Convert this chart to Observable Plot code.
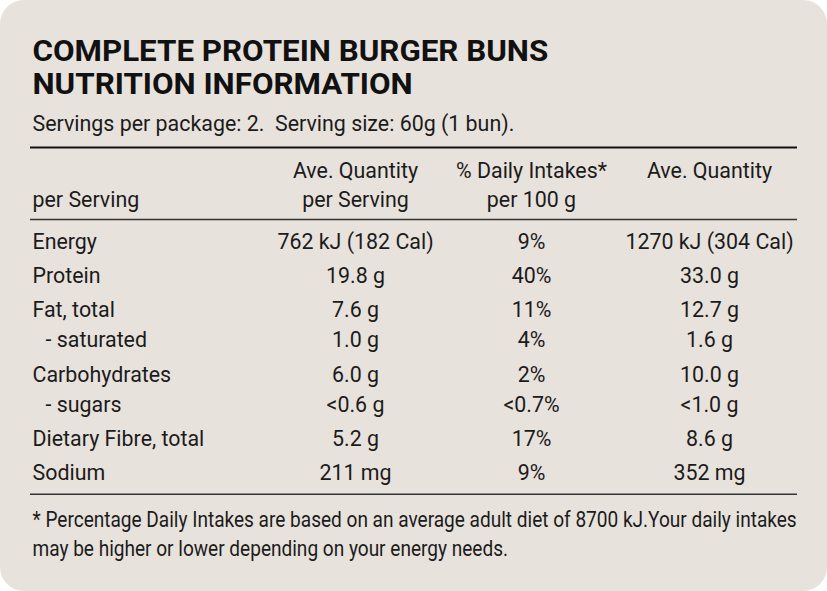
<!DOCTYPE html>
<html><head><meta charset="utf-8">
<script src="https://cdn.jsdelivr.net/npm/d3@7"></script>
<script src="https://cdn.jsdelivr.net/npm/@observablehq/plot@0.6"></script>
<style>
body{margin:0;background:#ffffff}
#chart svg{display:block}
</style></head><body><div id="chart"></div>
<script>
// ---- data ----
const titleLines = ["COMPLETE PROTEIN BURGER BUNS", "NUTRITION INFORMATION"];
const subtitle = "Servings per package: 2.\u00a0 Serving size: 60g (1 bun).";
const headerLine1 = ["", "Ave. Quantity", "% Daily Intakes*", "Ave. Quantity"];
const headerLine2 = ["per Serving", "per Serving", "per 100 g", ""];
const nutrients = ["Energy", "Protein", "Fat, total", "- saturated", "Carbohydrates", "- sugars", "Dietary Fibre, total", "Sodium"];
const isSubItem = [false, false, false, true, false, true, false, false];
const perServing = ["762 kJ (182 Cal)", "19.8 g", "7.6 g", "1.0 g", "6.0 g", "<0.6 g", "5.2 g", "211 mg"];
const dailyIntakePct = ["9%", "40%", "11%", "4%", "2%", "<0.7%", "17%", "9%"];
const per100g = ["1270 kJ (304 Cal)", "33.0 g", "12.7 g", "1.6 g", "10.0 g", "<1.0 g", "8.6 g", "352 mg"];
const footnoteLines = [
  "* Percentage Daily Intakes are based on an average adult diet of 8700 kJ.Your daily intakes",
  "may be higher or lower depending on your energy needs."
];

// ---- layout ----
const W = 827, H = 591;
const left = 32, indent = 13, ruleX1 = 30, ruleX2 = 797;
const colCenters = [355, 531, 709];
const titleBase = 60, titleStep = 33, subtitleBase = 130;
const header1Base = 177, header2Base = 206;
const firstRowBase = 248, mainGap = 34.2, subGap = 30.4;
const rowY = [];
nutrients.forEach((n, i) => rowY.push(i === 0 ? firstRowBase : rowY[i - 1] + (isSubItem[i] ? subGap : mainGap)));
const topRuleY = 147, headRuleY = 219, bottomRuleY = rowY[rowY.length - 1] + 14;
const footBase = 526, footStep = 29;
const ink = "#1b1b1b";

const labelCells = nutrients.map((n, i) => ({x: left + (isSubItem[i] ? indent : 0), y: rowY[i], text: n}));
const valueCells = nutrients.flatMap((n, i) => [
  {x: colCenters[0], y: rowY[i], text: perServing[i]},
  {x: colCenters[1], y: rowY[i], text: dailyIntakePct[i]},
  {x: colCenters[2], y: rowY[i], text: per100g[i]}
]);
const headerCells = [];
headerLine1.forEach((t, j) => { if (t && j > 0) headerCells.push({x: colCenters[j - 1], y: header1Base, text: t}); });
headerLine2.forEach((t, j) => { if (t && j > 0) headerCells.push({x: colCenters[j - 1], y: header2Base, text: t}); });

const common = {lineAnchor: "bottom", fill: ink, fontSize: 21.5};

const svg = Plot.plot({
  width: W, height: H,
  margin: 0,
  x: {domain: [0, W], range: [0, W], axis: null},
  y: {domain: [0, H], range: [0, H], axis: null},
  style: {background: "#e8e2dc", borderRadius: "24px", fontFamily: "Roboto, 'Liberation Sans', sans-serif", overflow: "hidden"},
  marks: [
    Plot.text(titleLines, {x: () => left, y: (d, i) => titleBase + i * titleStep, text: d => d, textAnchor: "start", lineAnchor: "bottom", fill: "#111", fontSize: 29, fontWeight: 700}),
    Plot.text([subtitle], {x: () => left, y: () => subtitleBase, text: d => d, textAnchor: "start", ...common}),
    Plot.ruleY([topRuleY], {x1: ruleX1, x2: ruleX2, stroke: "#111", strokeWidth: 2}),
    Plot.text([headerLine2[0]], {x: () => left, y: () => header2Base, text: d => d, textAnchor: "start", ...common}),
    Plot.text(headerCells, {x: "x", y: "y", text: "text", textAnchor: "middle", ...common}),
    Plot.ruleY([headRuleY], {x1: ruleX1, x2: ruleX2, stroke: "#333", strokeWidth: 1.6}),
    Plot.text(labelCells, {x: "x", y: "y", text: "text", textAnchor: "start", ...common}),
    Plot.text(valueCells, {x: "x", y: "y", text: "text", textAnchor: "middle", ...common}),
    Plot.ruleY([bottomRuleY], {x1: ruleX1, x2: ruleX2, stroke: "#333", strokeWidth: 1.6}),
    Plot.text(footnoteLines, {x: () => left, y: (d, i) => footBase + i * footStep, text: d => d, textAnchor: "start", ...common})
  ]
});
document.getElementById("chart").append(svg);

// condense glyphs horizontally (around each text's anchor) to match the narrow typeface of the reference
const texts = Array.from(svg.querySelectorAll("text"));
const natural = t => t.getComputedTextLength();
const sub = texts.find(t => t.textContent === subtitle);
const foot = texts.find(t => t.textContent === footnoteLines[0]);
const title = texts.find(t => t.textContent === titleLines[0]);
const bodyRatio = 482 / natural(sub);
const footRatio = 765 / natural(foot);
const titleRatio = 516 / natural(title);
texts.forEach(t => {
  const bold = t.closest("g[font-weight='700']");
  const isFoot = footnoteLines.includes(t.textContent);
  const r = bold ? titleRatio : isFoot ? footRatio : bodyRatio;
  const tr = t.getAttribute("transform");
  if (tr) {
    t.setAttribute("transform", `${tr} scale(${r.toFixed(4)},1)`);
  } else {
    const x = +t.getAttribute("x") || 0;
    t.setAttribute("transform", `translate(${x},0) scale(${r.toFixed(4)},1) translate(${-x},0)`);
  }
});
</script></body></html>
